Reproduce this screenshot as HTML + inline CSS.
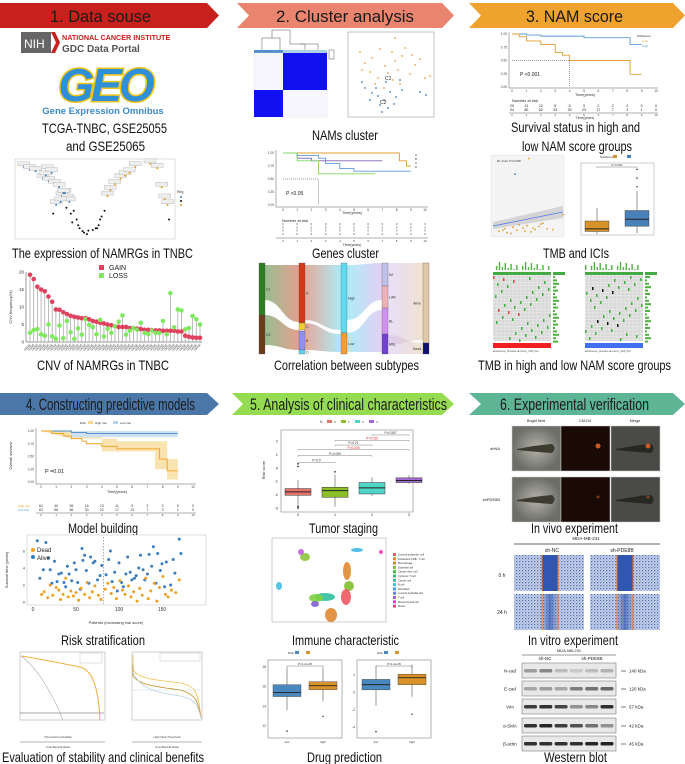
<!DOCTYPE html>
<html><head><meta charset="utf-8">
<style>
html,body{margin:0;padding:0;background:#fff;}
svg{display:block;font-family:"Liberation Sans",sans-serif;}
.cap{font-size:14px;fill:#111;text-anchor:middle;}
.hd{font-size:17px;fill:#1a1a1a;text-anchor:middle;}
.tk{font-size:4px;fill:#444;}
</style></head>
<body>
<svg id="root" width="685" height="764" viewBox="0 0 685 764" xmlns="http://www.w3.org/2000/svg">
<defs>
<pattern id="cells" width="3" height="3" patternUnits="userSpaceOnUse">
<rect width="3" height="3" fill="#c9d3ea"/><rect x="0" y="0" width="1.3" height="1.3" fill="#4f6fb8"/><rect x="1.6" y="1.7" width="1" height="1" fill="#7b91c8"/>
</pattern>
<linearGradient id="band24" x1="0" x2="1"><stop offset="0" stop-color="#2f56b0" stop-opacity="0.1"/><stop offset="0.5" stop-color="#2f56b0" stop-opacity="0.7"/><stop offset="1" stop-color="#2f56b0" stop-opacity="0.1"/></linearGradient>
<radialGradient id="bf"><stop offset="0" stop-color="#b5b5ad"/><stop offset="1" stop-color="#6e6e68"/></radialGradient>
<linearGradient id="sk1" x1="0" x2="1"><stop offset="0" stop-color="#2e7d20" stop-opacity="0.5"/><stop offset="1" stop-color="#c94020" stop-opacity="0.5"/></linearGradient>
<linearGradient id="sk2" x1="0" x2="1"><stop offset="0" stop-color="#c94020" stop-opacity="0.45"/><stop offset="1" stop-color="#5ad8f0" stop-opacity="0.5"/></linearGradient>
<linearGradient id="sk3" x1="0" x2="1"><stop offset="0" stop-color="#5ad8f0" stop-opacity="0.5"/><stop offset="1" stop-color="#c9a0e8" stop-opacity="0.5"/></linearGradient>
<linearGradient id="sk4" x1="0" x2="1"><stop offset="0" stop-color="#c9b0e8" stop-opacity="0.4"/><stop offset="1" stop-color="#e8cfb0" stop-opacity="0.6"/></linearGradient>
</defs>

<!-- Headers -->
<g><polygon points="0,3 207,3 219,15.5 207,28 0,28" fill="#c8201c"/><text class="hd" x="100.5" y="22" textLength="101" lengthAdjust="spacingAndGlyphs">1. Data souse</text></g>
<g><polygon points="237,3 442,3 454,15.5 442,28 237,28 249,15.5" fill="#e9846f"/><text class="hd" x="345" y="22" textLength="138" lengthAdjust="spacingAndGlyphs">2. Cluster analysis</text></g>
<g><polygon points="469,3 673,3 685,15.5 673,28 469,28 481,15.5" fill="#f0a22e"/><text class="hd" x="574.5" y="22" textLength="97" lengthAdjust="spacingAndGlyphs">3. NAM score</text></g>
<g><polygon points="0,393 207,393 219,404 207,415 0,415" fill="#4a77a8"/><text class="hd" x="110.5" y="410" textLength="169" lengthAdjust="spacingAndGlyphs">4. Constructing predictive models</text></g>
<g><polygon points="232,393 442,393 454,404 442,415 232,415 243,404" fill="#96dc52"/><text class="hd" x="348.5" y="410" textLength="197" lengthAdjust="spacingAndGlyphs">5. Analysis of clinical characteristics</text></g>
<g><polygon points="469,393 673,393 685,404 673,415 469,415 481,404" fill="#5db595"/><text class="hd" x="574.5" y="410" textLength="149" lengthAdjust="spacingAndGlyphs">6. Experimental verification</text></g>

<!-- Col1 logos -->
<g>
<rect x="21" y="32" width="30" height="21" fill="#666"/><text x="24" y="48" font-size="12" fill="#fff">NIH</text>
<polygon points="51,32 55,32 60,42.5 55,53 51,53 56,42.5" fill="#c8201c"/>
<text x="62" y="40" font-size="7.2" font-weight="bold" fill="#c8201c">NATIONAL CANCER INSTITUTE</text>
<text x="62" y="52" font-size="10" font-weight="bold" fill="#555">GDC Data Portal</text>
</g>
<g>
<text x="105" y="101" font-size="46" font-weight="bold" text-anchor="middle" fill="#2f8fd8" stroke="#f2c418" stroke-width="3" paint-order="stroke" font-style="italic" letter-spacing="-3">GEO</text>
<text x="103" y="114" font-size="9.5" font-weight="bold" text-anchor="middle" fill="#3a8ac8">Gene Expression Omnibus</text>
</g>
<text class="cap" x="104.5" y="133" textLength="125" lengthAdjust="spacingAndGlyphs">TCGA-TNBC, GSE25055</text>
<text class="cap" x="105.5" y="151" textLength="79" lengthAdjust="spacingAndGlyphs">and GSE25065</text>

<g id="volcano"><rect x="15" y="159" width="160" height="80" fill="#fff" stroke="#bbb" stroke-width="0.5"/></g>
<text class="cap" x="102.5" y="258" textLength="181" lengthAdjust="spacingAndGlyphs">The expression of NAMRGs in TNBC</text>

<g id="cnv"></g>
<text class="cap" x="103" y="370" textLength="132" lengthAdjust="spacingAndGlyphs">CNV of NAMRGs in TNBC</text>

<!-- Col2 -->
<g>
<path d="M262,50 V38 H272 V30 H290 V38 M272,38 H280 V50 M290,38 V44 H305 V50 M300,44 H318 V50" fill="none" stroke="#555" stroke-width="0.5"/>
<rect x="254" y="50" width="29" height="3" fill="#4f8fcf"/><rect x="283" y="50" width="44" height="3" fill="#a8d0e8"/>
<rect x="254" y="53" width="73" height="64" fill="#f6f6fc" stroke="#ddd" stroke-width="0.3"/>
<rect x="283" y="53" width="44" height="37" fill="#1010f0"/>
<rect x="254" y="90" width="29" height="27" fill="#1010f0"/>
<rect x="329" y="50" width="5" height="9" fill="#fff" stroke="#777" stroke-width="0.6"/>
</g>
<g id="pca"><rect x="348" y="32" width="86" height="85" fill="#fff" stroke="#888" stroke-width="0.5"/></g>
<text class="cap" x="345" y="140" textLength="66" lengthAdjust="spacingAndGlyphs">NAMs cluster</text>
<g id="km2"></g>
<text class="cap" x="345.5" y="258" textLength="67" lengthAdjust="spacingAndGlyphs">Genes cluster</text>
<g id="sankey"></g>
<text class="cap" x="346.5" y="370" textLength="145" lengthAdjust="spacingAndGlyphs">Correlation between subtypes</text>

<!-- Col3 -->
<g id="km3"></g>
<text class="cap" x="575.5" y="132" textLength="129" lengthAdjust="spacingAndGlyphs">Survival status in high and</text>
<text class="cap" x="577" y="151" textLength="110" lengthAdjust="spacingAndGlyphs">low NAM score groups</text>
<g id="tmb"></g>
<g id="ici"></g>
<text class="cap" x="576" y="258" textLength="66" lengthAdjust="spacingAndGlyphs">TMB and ICIs</text>
<g id="onco"></g>
<text class="cap" x="574.5" y="370" textLength="193" lengthAdjust="spacingAndGlyphs">TMB in high and low NAM score groups</text>

<!-- Col4 -->
<g id="km4"></g>
<text class="cap" x="103" y="533" textLength="70" lengthAdjust="spacingAndGlyphs">Model building</text>
<g id="risk"></g>
<text class="cap" x="103" y="645" textLength="84" lengthAdjust="spacingAndGlyphs">Risk stratification</text>
<g id="dca"></g>
<text class="cap" x="103" y="762" textLength="202" lengthAdjust="spacingAndGlyphs">Evaluation of stability and clinical benefits</text>

<!-- Col5 -->
<g id="stage"></g>
<text class="cap" x="343.5" y="533" textLength="69" lengthAdjust="spacingAndGlyphs">Tumor staging</text>
<g id="umap"></g>
<text class="cap" x="345.5" y="645" textLength="107" lengthAdjust="spacingAndGlyphs">Immune characteristic</text>
<g id="drug"></g>
<text class="cap" x="344.5" y="762" textLength="75" lengthAdjust="spacingAndGlyphs">Drug prediction</text>

<!-- Col6 -->
<g id="fish"></g>
<text class="cap" x="574.5" y="533" textLength="87" lengthAdjust="spacingAndGlyphs">In vivo experiment</text>
<g id="wound"></g>
<text class="cap" x="573" y="645" textLength="90" lengthAdjust="spacingAndGlyphs">In vitro experiment</text>
<g id="wb"></g>
<text class="cap" x="575.5" y="762" textLength="63" lengthAdjust="spacingAndGlyphs">Western blot</text>
</svg>

<script>
// ---------- data ----------
const cnvGain=[19.2,18,15.8,15,14.5,13,11.5,9.3,9.2,8.5,8,7.5,7.2,7,6.8,6.8,6.5,6,5.8,5.5,5.3,5,4.8,4.5,4.3,4.3,4.3,4,4,3.8,3.7,3.5,3.5,3.4,3.3,3.3,3.2,3.2,3.2,3.2,3,3,1.8,1.5,1.3,1.2,1.2];
const cnvLoss=[2.6,3.4,3.7,2.2,1.8,5,1.6,0.9,4.7,1.1,6,2.8,0.9,3.9,2.1,6.5,4.9,4.2,2.2,6.3,1.6,3.8,2.6,4.5,5.8,7.6,2.1,3.2,4,3.5,5.5,2.6,2.2,3.3,2.6,2.6,6,2.2,14,4.2,9.3,9,3.6,4,7.4,6.5,5];
const kmTime3Low=[0,0.5,1,2,3,3.5,4,8,8.2,9];
const kmSurv3Low=[1,0.95,0.87,0.8,0.65,0.6,0.5,0.5,0.24,0.24];
const kmTime3High=[0,1,2,5,8,8.2,9];
const kmSurv3High=[1,0.98,0.96,0.93,0.93,0.8,0.8];
const kmTimeA=[0,8,8.2,8.7,9], kmSurvA=[1,1,0.85,0.75,0.75];
const kmTimeB=[0,1,2.5,3,4,5,9], kmSurvB=[1,0.95,0.9,0.8,0.7,0.65,0.65];
const kmTimeC=[0,1,2,7], kmSurvC=[1,0.9,0.85,0.85];
const kmTimeD=[0,1,2.5,6.5], kmSurvD=[1,0.85,0.6,0.6];
const kmTime4High=[0,0.7,1.5,2,2.7,3,4,5,7.5,7.8,8.3,9];
const kmSurv4High=[1,0.95,0.9,0.85,0.8,0.75,0.7,0.65,0.65,0.45,0.22,0.22];
const kmTime4Low=[0,2,3,9], kmSurv4Low=[1,0.97,0.95,0.95];
const stageCats=["0","1","2","3"];
const stageQ1=[-2.05,-2.2,-1.95,-1.1], stageMed=[-1.8,-1.7,-1.5,-0.95], stageQ3=[-1.55,-1.45,-1.1,-0.75];
const stageLo=[-3,-2.9,-2.1,-1.2], stageHi=[-0.9,-0.5,-0.7,-0.55];
const stagePvals=["P=0.9","P=0.009","P=0.005","P=0.21","P=0.015","P=0.067"];
const aliveIdx=[5,8,12,15,18,20,22,25,28,30,33,36,38,40,42,45,48,50,52,55,57,58,60,62,65,67,70,72,75,78,80,85,88,90,92,95,98,100,103,105,108,110,113,115,118,120,123,125,128,130,133,135,138,140,143,145,148,150,153,155,160,163,165,170,172];
const aliveTime=[7.2,2.8,3.8,7,5.2,3.8,2.2,4.8,2.4,3.3,3.4,2.3,1.8,4.2,3.3,2.5,4.6,3.8,2.3,1.5,6.3,4.9,5.5,3.7,2.2,5.3,4.6,4.8,2.6,3.1,4.3,3.2,5,6,2.4,3.5,1.3,4.6,2.3,1.8,3.3,5.3,3.5,2.6,2.8,3.1,4,5.5,3.8,2.6,3.3,5.6,4.2,6.5,2.2,5.7,3.7,4.5,1.8,4.7,2,5,3.4,7.4,5.7];
const deadIdx=[10,13,17,20,23,27,30,32,35,38,41,44,47,50,53,56,60,63,66,69,72,76,79,84,87,91,94,97,101,104,107,111,114,117,121,124,127,131,134,137,141,144,147,151,154,157,161,166,170];
const deadTime=[0.9,1.2,0.5,2,0.8,1.7,1.4,0.3,0.9,2.8,0.6,1.3,0.7,1.1,0.2,1.6,0.9,2.3,0.5,1.2,1.9,0.8,0.3,1.5,2.2,1,1.7,0.4,2.5,1.4,0.9,1.9,0.6,1.2,0.1,1.6,0.8,2.8,0.4,1.3,2.2,0.1,1.7,3,0.9,0.6,1.4,1.1,2.6];
const drugLow1=[11.5,13.6,15,15.4,16.2,17.9], drugHigh1=[13,14.5,15.7,16.1,16.5,17.9];
const drugLow2=[-4.5,-1.5,0.3,0.9,1.5,3], drugHigh2=[-2.5,-0.5,0.9,1.7,2.1,3.2];
const tmbX=[-1.2,-0.9,-0.8,-0.5,-0.3,0,0.2,0.4,0.6,0.8,1,1.2,-0.6,-0.2,0.1,0.5,0.9,1.5,2,0.3,-1,-0.4];
const tmbY=[0.5,0.8,0.3,1,0.6,0.9,1.2,0.4,0.7,1.1,1.5,0.8,0.2,1.3,0.5,0.9,1.4,0.7,2.6,9.8,0.6,7.8];
const iciLow=[0.1,0.4,0.7,1.6,3.1], iciHigh=[0.2,1,1.8,2.8,5];
const volcX=[-4.6,-4.2,-3.8,-3.3,-3.1,-3,-2.9,-2.7,-2.5,-2.2,-2,-1.8,-1.6,-1.5,-1.4,-1.2,-1,-0.8,-0.6,-0.5,-0.3,-0.2,0.1,0.3,0.5,0.6,0.9,1.1,1.3,1.6,2,2.3,2.6,3,4,4.5,4.8,5,5.2,5.3,-2.4,-2.6,-1.9,-1.7,-2.1,-1.3,-0.9,0.4,0.7];
const volcY=[24,23,22.5,20,21,23,19,22,18,17,14,15,13,12,8,9,6,3,2,1.5,1,2.2,2.4,3,4,6,9,14,16,18,20,21,22,24,25,23.5,17,13,11,6,11,8,15,10,12,5,4,3,7];
// ---------- helpers ----------
const NS="http://www.w3.org/2000/svg";
function mk(tag,attrs,parent){const e=document.createElementNS(NS,tag);for(const k in attrs)e.setAttribute(k,attrs[k]);parent.appendChild(e);return e;}
function lin(d0,d1,r0,r1){return v=>r0+(v-d0)*(r1-r0)/(d1-d0);}
function G(id){return document.getElementById(id);}
function txt(p,x,y,s,size,fill,anchor){const t=mk('text',{x:x,y:y,'font-size':size,fill:fill||'#333','text-anchor':anchor||'start'},p);t.textContent=s;return t;}

// ---------- volcano ----------
(function(){const g=G('volcano');const x=lin(-5,5.5,18,172),y=lin(0,26,237,161);
for(let i=0;i<volcX.length;i++){const v=volcX[i];const col=v<-1.4&&volcY[i]>10?'#3c7fc0':(v>1&&volcY[i]>8?'#e89a20':'#111');
 if(col!=='#111'){const r=mk('rect',{x:x(v)-6,y:y(volcY[i])-5,width:12,height:4,fill:'#eee',stroke:'#999','stroke-width':0.3},g);}
 const c=mk('circle',{cx:x(v),cy:y(volcY[i]),r:1,fill:col},g);}
const l=mk('g',{},g);
txt(l,177,193,'Reg',3.5);[['#3c7fc0',197],['#111',201],['#e89a20',205]].forEach(a=>mk('circle',{cx:181,cy:a[1],r:1,fill:a[0]},l));})();

// ---------- CNV ----------
(function(){const g=G('cnv');const y=lin(0,20,342,272);const x=i=>30+i*(170/(cnvGain.length-1));
[0,5,10,15,20].forEach(v=>txt(g,24,y(v)+1.5,String(v),4.5,'#333','end'));
mk('line',{x1:26,y1:272,x2:26,y2:342,stroke:'#333','stroke-width':0.5},g);mk('line',{x1:26,y1:342,x2:202,y2:342,stroke:'#333','stroke-width':0.5},g);
const yl=txt(g,12,307,'CNV frequency(%)',4,'#333','middle');yl.setAttribute('transform','rotate(-90 12 307)');
for(let i=0;i<cnvGain.length;i++){const top=Math.max(cnvGain[i],cnvLoss[i]);
 mk('line',{x1:x(i),y1:y(0),x2:x(i),y2:y(top),stroke:'#aaa','stroke-width':0.8},g);
 const a=mk('circle',{cx:x(i),cy:y(cnvGain[i]),r:2.3,fill:'#e0415f'},g);
 const b=mk('circle',{cx:x(i),cy:y(cnvLoss[i]),r:2.3,fill:'#80e860'},g);
 const t=txt(g,x(i)+1,345,'GENE',3,'#444','end');t.setAttribute('transform','rotate(-45 '+(x(i)+1)+' 345)');}
const l=mk('g',{},g);
mk('rect',{x:99,y:265,width:5,height:5,fill:'#e0415f'},l);txt(l,109,270,'GAIN',7,'#222');
mk('rect',{x:99,y:273,width:5,height:5,fill:'#80e860'},l);txt(l,109,278,'LOSS',7,'#222');})();

// ---------- PCA ----------
(function(){const g=G('pca');
const pcaO=[[360,52],[365,63],[372,58],[380,49],[385,66],[392,52],[395,61],[398,70],[402,56],[405,48],[410,74],[415,65],[420,59],[425,78],[430,76],[378,78],[388,73],[393,80],[400,84],[384,88],[370,72],[375,84],[362,70],[395,38],[412,55]];
const pcaB=[[365,88],[372,93],[378,96],[384,100],[390,92],[396,97],[402,90],[380,105],[388,108],[370,100],[394,104],[400,80],[386,82],[376,88],[420,92],[426,95],[382,112],[362,82]];
pcaO.forEach(p=>{const c=mk('circle',{cx:p[0],cy:p[1],r:0.9,fill:'#e8a040'},g);});
pcaB.forEach(p=>{const c=mk('circle',{cx:p[0],cy:p[1],r:0.9,fill:'#3c7ab8'},g);});
txt(g,385,80,'C1',5,'#222');txt(g,380,104,'C2',5,'#222');})();

// ---------- KM generic ----------
function km(g,times,surv,x,y,col,w){let d='M'+x(times[0])+','+y(surv[0]);for(let i=1;i<times.length;i++){d+=' H'+x(times[i])+' V'+y(surv[i]);}
 const p=mk('path',{d:d,fill:'none',stroke:col,'stroke-width':w||0.9},g);return p;}
function kmAxes(g,x0,x1,y0,y1,yl){mk('line',{x1:x0,y1:y0,x2:x0,y2:y1,stroke:'#333','stroke-width':0.4},g);mk('line',{x1:x0,y1:y1,x2:x1,y2:y1,stroke:'#333','stroke-width':0.4},g);}

(function(){const g=G('km3');const x=lin(0,10,512,656),y=lin(0,1,87,34);kmAxes(g,509,658,32,88);
['0.00','0.25','0.50','0.75','1.00'].forEach((s,i)=>txt(g,507,y(i*0.25)+1,s,3.2,'#444','end'));
for(let i=0;i<=10;i++)txt(g,x(i),92,String(i),3.2,'#444','middle');txt(g,585,96,'Time(years)',3.8,'#333','middle');
mk('path',{d:'M'+x(0)+','+y(0.5)+' H'+x(4)+' V'+y(0),stroke:'#333','stroke-dasharray':'1,1','stroke-width':0.5,fill:'none'},g);
const a=km(g,kmTime3High,kmSurv3High,x,y,'#5b9bd5');
const b=km(g,kmTime3Low,kmSurv3Low,x,y,'#e0a030');
txt(g,520,76,'P <0.001',5,'#222');txt(g,637,37,'NAMscore',3,'#333');txt(g,642,42,'Low',3,'#e0a030');txt(g,642,47,'High',3,'#5b9bd5');
txt(g,512,102,'Number at risk',4,'#222');
const lowR=['29','21','12','5','5','3','2','2','2','0','0'],highR=['94','80','62','33','30','23','17','7','3','1','0'];
for(let i=0;i<=10;i++){txt(g,x(i),107,lowR[i],3.5,'#222','middle');txt(g,x(i),111,highR[i],3.5,'#222','middle');txt(g,x(i),116,String(i),3,'#444','middle');}
mk('line',{x1:509,y1:113,x2:658,y2:113,stroke:'#333','stroke-width':0.4},g);txt(g,585,119,'Time(years)',3.5,'#333','middle');})();

(function(){const g=G('km2');const x=lin(0,10,283,425),y=lin(0,1,205,153);kmAxes(g,276,428,150,207);
['0.00','0.25','0.50','0.75','1.00'].forEach((s,i)=>txt(g,274,y(i*0.25)+1,s,3.2,'#444','end'));
for(let i=0;i<=10;i++)txt(g,x(i),211,String(i),3.2,'#444','middle');txt(g,352,214,'Time(years)',3.8,'#333','middle');
mk('path',{d:'M'+x(0)+','+y(0.5)+' H'+x(2.5)+' V'+y(0),stroke:'#333','stroke-dasharray':'1,1','stroke-width':0.5,fill:'none'},g);
[[kmTimeA,kmSurvA,'#e0a030','km-cluster-a'],[kmTimeB,kmSurvB,'#5b9bd5','km-cluster-b'],[kmTimeC,kmSurvC,'#8060b0','km-cluster-c'],[kmTimeD,kmSurvD,'#80d860','km-cluster-d']].forEach(s=>{const p=km(g,s[0],s[1],x,y,s[2]);});
txt(g,286,195,'P <0.05',5,'#222');['A','B','C','D'].forEach((s,i)=>txt(g,415,156+i*4,s,3,'#333'));
txt(g,282,222,'Number at risk',4,'#222');mk('line',{x1:276,y1:238,x2:428,y2:238,stroke:'#333','stroke-width':0.4},g);
for(let i=0;i<=10;i++){for(let r=0;r<4;r++)txt(g,x(i),225+r*3.3,'0',2.8,'#333','middle');txt(g,x(i),242,String(i),3,'#444','middle');}
txt(g,352,246,'Time(years)',3.5,'#333','middle');})();

(function(){const g=G('km4');const x=lin(0,10,41,193),y=lin(0,1,482,431);kmAxes(g,36,196,428,484);
txt(g,80,424,'Risk',3,'#333');mk('rect',{x:88,y:421,width:5,height:3,fill:'#f5d790'},g);txt(g,95,424,'High risk',3,'#333');mk('rect',{x:113,y:421,width:5,height:3,fill:'#b8d4ec'},g);txt(g,120,424,'Low risk',3,'#333');
['0.00','0.25','0.50','0.75','1.00'].forEach((s,i)=>txt(g,34,y(i*0.25)+1,s,3.2,'#444','end'));
const yl=txt(g,12,456,'Overall survival',4,'#333','middle');yl.setAttribute('transform','rotate(-90 12 456)');
mk('path',{d:'M'+x(0)+','+y(1)+' H'+x(2)+' V'+y(0.88)+' H'+x(4)+' V'+y(0.6)+' H'+x(7.5)+' V'+y(0.25)+' H'+x(8.3)+' V'+y(0.05)+' H'+x(9)+' V'+y(0.45)+' H'+x(8.3)+' V'+y(0.8)+' H'+x(5)+' V'+y(0.85)+' H'+x(2)+' Z',fill:'#f5d790',opacity:0.7},g);
mk('rect',{x:x(2),y:y(1),width:x(9)-x(2),height:y(0.88)-y(1),fill:'#b8d4ec',opacity:0.7},g);
const a=km(g,kmTime4Low,kmSurv4Low,x,y,'#4a88c8');
const b=km(g,kmTime4High,kmSurv4High,x,y,'#f0a020');
txt(g,45,473,'P =0.01',5.5,'#222');
for(let i=0;i<=10;i++)txt(g,x(i),488,String(i),3.2,'#444','middle');txt(g,117,493,'Time(years)',3.8,'#333','middle');
const hr=['61','40','26','16','13','11','9','3','2','0','0'],lr=['62','56','56','30','22','17','13','7','3','1','0'];
for(let i=0;i<=10;i++){txt(g,x(i),507,hr[i],3.5,'#333','middle');txt(g,x(i),511,lr[i],3.5,'#333','middle');txt(g,x(i),516,String(i),3,'#444','middle');}
txt(g,18,507,'High risk',3,'#f0a020');txt(g,18,511,'Low risk',3,'#4a88c8');mk('line',{x1:36,y1:513,x2:196,y2:513,stroke:'#333','stroke-width':0.4},g);})();

// ---------- risk scatter ----------
(function(){const g=G('risk');const x=lin(0,150,33,162),y=lin(0,6,602,551);
mk('rect',{x:27,y:535,width:179,height:70,fill:'#fff',stroke:'#aaa','stroke-width':0.4},g);
mk('line',{x1:x(82),y1:537,x2:x(82),y2:604,stroke:'#555','stroke-dasharray':'1.5,1.5','stroke-width':0.5},g);
[0,2,4,6].forEach(v=>txt(g,25,y(v)+1.5,String(v),4,'#444','end'));[0,50,100,150].forEach(v=>txt(g,x(v),611,String(v),5,'#333','middle'));
txt(g,116,624,'Patients (increasing risk score)',4,'#333','middle');const yl=txt(g,8,570,'Survival time (years)',4,'#333','middle');yl.setAttribute('transform','rotate(-90 8 570)');
for(let i=0;i<aliveIdx.length;i++){const c=mk('circle',{cx:x(aliveIdx[i]),cy:y(aliveTime[i]),r:1.5,fill:'#3a7cc0'},g);}
for(let i=0;i<deadIdx.length;i++){const c=mk('circle',{cx:x(deadIdx[i]),cy:y(deadTime[i]),r:1.5,fill:'#f0a020'},g);}
mk('circle',{cx:33,cy:550,r:2,fill:'#f0a020'},g);txt(g,37,552,'Dead',6,'#222');mk('circle',{cx:33,cy:557,r:2,fill:'#3a7cc0'},g);txt(g,37,560,'Alive',6,'#222');})();

// ---------- DCA ----------
(function(){const g=G('dca');
mk('rect',{x:20,y:652,width:85,height:68,fill:'#fff',stroke:'#888','stroke-width':0.4},g);
mk('line',{x1:20,y1:713,x2:104,y2:713,stroke:'#888','stroke-width':0.8},g);
mk('path',{d:'M21,656 C35,658 60,663 80,667 C90,670 98,680 100,720',fill:'none',stroke:'#f0b040','stroke-width':1},g);
mk('path',{d:'M21,656 C40,670 55,700 63,720',fill:'none',stroke:'#aaa','stroke-width':0.6},g);
mk('rect',{x:80,y:653,width:22,height:10,fill:'#fff',stroke:'#999','stroke-width':0.3},g);
txt(g,58,738,'Threshold probability',3,'#444','middle');txt(g,58,748,'Cost:Benefit Ratio',3,'#444','middle');
mk('line',{x1:20,y1:742,x2:105,y2:742,stroke:'#444','stroke-width':0.4},g);
mk('rect',{x:132,y:652,width:70,height:68,fill:'#fff',stroke:'#888','stroke-width':0.4},g);
mk('path',{d:'M133,655 V670 C140,680 160,680 180,683 C195,686 198,690 201,718',fill:'none',stroke:'#f0c050','stroke-width':0.8},g);
mk('path',{d:'M133,665 V676 C140,686 160,687 180,690 C195,694 198,700 201,718',fill:'none',stroke:'#c89020','stroke-width':0.8},g);
mk('path',{d:'M133,672 C140,690 160,693 180,696 C195,699 198,705 201,718',fill:'none',stroke:'#b8d0e8','stroke-width':0.8},g);
mk('line',{x1:133,y1:690,x2:200,y2:690,stroke:'#90b8e0','stroke-dasharray':'1,1','stroke-width':0.5},g);
mk('rect',{x:160,y:653,width:40,height:8,fill:'#fff',stroke:'#999','stroke-width':0.3},g);
txt(g,167,738,'High Risk Threshold',3,'#444','middle');txt(g,167,748,'Cost:Benefit Ratio',3,'#444','middle');
mk('line',{x1:132,y1:742,x2:202,y2:742,stroke:'#444','stroke-width':0.4},g);})();

// ---------- Tumor stage boxplot ----------
(function(){const g=G('stage');const y=lin(-3,2,508,441);const cx=[298,335,372,409];const cols=['#e8736b','#8cbf26','#4fd6c8','#a66bd3'];
mk('rect',{x:281,y:430,width:132,height:82,fill:'#fff',stroke:'#444','stroke-width':0.4},g);
[2,1,0,-1,-2,-3].forEach(v=>txt(g,278,y(v)+1.5,String(v),4,'#333','end'));
const yl=txt(g,265,470,'Risk score',4,'#333','middle');yl.setAttribute('transform','rotate(-90 265 470)');
txt(g,320,423,'N',3.5,'#333');
for(let i=0;i<4;i++){mk('rect',{x:327+i*14,y:420,width:5,height:3,fill:cols[i]},g);txt(g,334+i*14,423,stageCats[i],3,'#333');
 mk('line',{x1:cx[i],y1:y(stageLo[i]),x2:cx[i],y2:y(stageHi[i]),stroke:'#333','stroke-width':0.5},g);
 const b=mk('rect',{x:cx[i]-13,y:y(stageQ3[i]),width:26,height:y(stageQ1[i])-y(stageQ3[i]),fill:cols[i],stroke:'#333','stroke-width':0.5},g);
 mk('line',{x1:cx[i]-13,y1:y(stageMed[i]),x2:cx[i]+13,y2:y(stageMed[i]),stroke:'#222','stroke-width':1},g);
 txt(g,cx[i],516,stageCats[i],4,'#333','middle');}
[-3,-2.9,0.3,0.1,-0.3].forEach((v,k)=>mk('circle',{cx:k<4?cx[0]:cx[1],cy:y(v),r:0.8,fill:'#111'},g));
const pairs=[[0,1,0.4],[0,2,0.9],[0,3,1.35],[1,2,1.7],[1,3,2.05],[2,3,2.45]];
pairs.forEach((p,k)=>{const yy=y(p[2]);mk('path',{d:'M'+cx[p[0]]+','+(yy+1)+' V'+yy+' H'+cx[p[1]]+' V'+(yy+1),fill:'none',stroke:'#666','stroke-width':0.4},g);
 txt(g,(cx[p[0]]+cx[p[1]])/2,yy-0.8,stagePvals[k],3.2,(k===2||k===4)?'#e02020':'#333','middle');});})();

// ---------- UMAP ----------
(function(){const g=G('umap');mk('rect',{x:272,y:538,width:114,height:84,fill:'#fff',stroke:'#888','stroke-width':0.4},g);
const cl=[[305,557,5,4,'#8cc83c'],[301,552,3,3,'#c060e0'],[279,586,3,4,'#40c0e0'],[357,550,6,2,'#40b8e8'],[381,552,2,2,'#f040c0'],[347,571,4,9,'#e08830'],[349,586,5,5,'#80c030'],[346,597,5,8,'#f05860'],[325,597,10,4,'#30c0a0'],[316,598,7,4,'#80d040'],[315,604,4,3,'#8060d0'],[331,615,6,7,'#e08830']];
cl.forEach(c=>{const e=mk('ellipse',{cx:c[0],cy:c[1],rx:c[2],ry:c[3],fill:c[4],opacity:0.9},g);});
const names=['Luminal progenitor cell','Exhausted CD8+ T cell','Macrophage','Epithelial cell','Cancer stem cell','Cytotoxic T cell','Cancer cell','B cell','Fibroblast','Luminal epithelial cell','T cell','Mesenchymal cell','Mixed'];
const lc=['#f05860','#e08830','#c09020','#80c030','#40c040','#30c070','#30c0a0','#40c0e0','#40a0f0','#6080f0','#a060e0','#e040d0','#f04090'];
names.forEach((n,i)=>{mk('rect',{x:393,y:553+i*4.3,width:3,height:3,fill:lc[i]},g);txt(g,398,555.5+i*4.3,n,2.6,'#333');});})();

// ---------- Drug boxplots ----------
(function(){const g=G('drug');
function panel(x0,lo,hi,d0,d1,ticks){const y=lin(d0,d1,736,662);mk('rect',{x:x0,y:660,width:74,height:78,fill:'#fff',stroke:'#444','stroke-width':0.4},g);
 ticks.forEach(v=>txt(g,x0-2,y(v)+1,String(v),3.2,'#333','end'));
 [[lo,x0+19,'#4a88c0'],[hi,x0+55,'#d8922a']].forEach(s=>{const q=s[0],c=s[1];
  mk('line',{x1:c,y1:y(q[1]),x2:c,y2:y(q[5]),stroke:'#333','stroke-width':0.5},g);
  const b=mk('rect',{x:c-14,y:y(q[4]),width:28,height:y(q[2])-y(q[4]),fill:s[2],stroke:'#333','stroke-width':0.4},g);
  mk('line',{x1:c-14,y1:y(q[3]),x2:c+14,y2:y(q[3]),stroke:'#222','stroke-width':0.9},g);
  mk('circle',{cx:c,cy:y(q[0]),r:0.7,fill:'#111'},g);});
 mk('path',{d:'M'+(x0+19)+','+(y(d1)+6)+' V'+(y(d1)+4)+' H'+(x0+55)+' V'+(y(d1)+6),fill:'none',stroke:'#555','stroke-width':0.4},g);
 txt(g,x0+37,y(d1)+3,'P=1.2e-05',3,'#333','middle');txt(g,x0+19,743,'low',3,'#333','middle');txt(g,x0+55,743,'high',3,'#333','middle');
 txt(g,x0+20,654,'Risk',3,'#333');mk('rect',{x:x0+27,y:651,width:4,height:3,fill:'#4a88c0'},g);mk('rect',{x:x0+38,y:651,width:4,height:3,fill:'#d8922a'},g);}
panel(268,drugLow1,drugHigh1,11,18.5,[12,14,16,18]);panel(357,drugLow2,drugHigh2,-5,3.5,[-4,-2,0,2]);})();

// ---------- TMB scatter & ICI box ----------
(function(){const g=G('tmb');const x=lin(-1.5,2,493,563),y=lin(0,10,235,157);
mk('rect',{x:491,y:155,width:73,height:82,fill:'#f4f4f4',stroke:'#ccc','stroke-width':0.3},g);
mk('path',{d:'M493,229 L563,218 L563,206 L493,222 Z',fill:'#ccc',opacity:0.8},g);mk('line',{x1:493,y1:226,x2:563,y2:212,stroke:'#5577ee','stroke-width':0.8},g);
for(let i=0;i<tmbX.length;i++){const c=mk('circle',{cx:x(tmbX[i]),cy:y(tmbY[i]),r:0.9,fill:i===21?'#3c7ab8':'#e0a030'},g);}
txt(g,497,162,'R=-0.22, P=0.008',3,'#333');
const h=G('ici');const yb=lin(0,8,235,165);mk('rect',{x:581,y:163,width:73,height:72,fill:'#fff',stroke:'#888','stroke-width':0.4},h);
txt(h,600,158,'NAMscore',3,'#333');mk('rect',{x:613,y:155,width:4,height:3,fill:'#d8922a'},h);mk('rect',{x:627,y:155,width:4,height:3,fill:'#4a80b8'},h);
[[iciLow,597,'#d8922a'],[iciHigh,637,'#4a80b8']].forEach(s=>{const q=s[0],c=s[1];mk('line',{x1:c,y1:yb(q[0]),x2:c,y2:yb(q[4]),stroke:'#333','stroke-width':0.5},h);
 const b=mk('rect',{x:c-12,y:yb(q[3]),width:24,height:yb(q[1])-yb(q[3]),fill:s[2],stroke:'#333','stroke-width':0.4},h);
 mk('line',{x1:c-12,y1:yb(q[2]),x2:c+12,y2:yb(q[2]),stroke:'#222','stroke-width':0.9},h);});
[5.5,6.5,7.5].forEach(v=>mk('circle',{cx:637,cy:yb(v),r:0.7,fill:'#111'},h));
mk('path',{d:'M597,168 V167 H637 V168',fill:'none',stroke:'#555','stroke-width':0.4},h);txt(h,617,166,'P<0.001',3,'#333','middle');})();

// ---------- Oncoplot ----------
(function(){const g=G('onco');
[[493,'#f02020'],[585,'#4070f0']].forEach((p,k)=>{const x0=p[0];
 mk('rect',{x:x0,y:272,width:58,height:69,fill:'#d8d8d8'},g);
 for(let c=0;c<=14;c++)mk('line',{x1:x0+c*4,y1:272,x2:x0+c*4,y2:341,stroke:'#fff','stroke-width':0.3},g);
 for(let r=0;r<=20;r++)mk('line',{x1:x0,y1:272+r*3.4,x2:x0+58,y2:272+r*3.4,stroke:'#fff','stroke-width':0.3},g);
 mk('rect',{x:x0,y:272,width:58,height:3,fill:'#4a4'},g);
 for(let j=0;j<40;j++){const cx=x0+((j*17+k*7)%57),cy=276+((j*23+k*11)%64);mk('rect',{x:cx,y:cy,width:1.5,height:3,fill:j%7===0?(k?'#111':'#e04040'):'#40b040'},g);}
 for(let j=0;j<20;j++)mk('rect',{x:x0+j*2.9,y:270-((j*13+k*5)%9),width:1.4,height:((j*13+k*5)%9),fill:'#50b040'},g);
 mk('rect',{x:x0+60,y:272,width:12,height:3,fill:'#4a4'},g);
 for(let r=0;r<20;r++)mk('rect',{x:x0+60,y:276+r*3.4,width:2+((r*7+k*3)%5),height:2,fill:'#50b040'},g);
 const bar=mk('rect',{x:x0,y:343,width:58,height:5,fill:p[1]},g);
 txt(g,x0,352,'■ Missense_Mutation  ■ Frame_Shift_Del',2.5,'#555');});})();

// ---------- Sankey ----------
(function(){const g=G('sankey');
const flows=[['M264,265 C282,265 282,265 299,265 L299,322 C282,322 282,300 264,300 Z','url(#sk1)'],['M264,315 C282,315 282,330 299,330 L299,350 C282,350 282,345 264,345 Z','url(#sk1)'],
['M304,265 C322,265 322,265 341,265 L341,330 C322,330 322,320 304,320 Z','url(#sk2)'],['M304,323 C322,323 322,334 341,334 L341,352 C322,352 322,350 304,350 Z','url(#sk2)'],
['M347,265 C365,265 365,263 382,263 L382,300 C365,300 365,320 347,320 Z','url(#sk3)'],['M347,333 C365,333 365,310 382,310 L382,352 C365,352 365,352 347,352 Z','url(#sk3)'],
['M388,263 C405,263 405,263 423,263 L423,340 C405,340 405,345 388,345 Z','url(#sk4)'],['M388,335 C405,335 405,343 423,343 L423,354 C405,354 405,354 388,354 Z','url(#sk4)']];
flows.forEach(f=>{const p=mk('path',{d:f[0],fill:f[1]},g);});
const nodes=[[259,263,52,'#2e7d20','C1'],[259,315,39,'#6b3a18','C2'],[299,263,60,'#d03a18','A'],[299,323,7,'#f0d030','C'],[299,331,19,'#9090f0','B'],[299,350,4,'#60d0f0','D'],
[341,263,70,'#60d8f0','High'],[341,333,21,'#f0a030','Low'],[382,263,23,'#c0c0e8','IM'],[382,286,22,'#f0b0b8','LAR'],[382,308,26,'#d090f0','BL'],[382,334,20,'#7040d0','MSL'],[423,263,80,'#e0c8a8','Alive'],[423,343,11,'#101070','Dead']];
nodes.forEach(n=>{const r=mk('rect',{x:n[0],y:n[1],width:6,height:n[2],fill:n[3],stroke:'#555','stroke-width':0.3},g);
 txt(g,n[0]+(n[0]>400?-6:7),n[1]+n[2]/2+1.5,n[4],3.5,'#333',n[0]>400?'middle':'start');});})();

// ---------- zebrafish ----------
(function(){const g=G('fish');const xs=[512,561,611];const lab=['Bright field','CM-DiI','Merge'];
xs.forEach((x,i)=>{txt(g,x+24,422,lab[i],3.8,'#222','middle');
 [426,477].forEach((y,r)=>{const bg=i===1?'#1a0a06':(i===0?'url(#bf)':'#4a4a46');const rc=mk('rect',{x:x,y:y,width:49,height:45,fill:bg,stroke:'#ccc','stroke-width':0.5},g);
  if(i!==1)mk('path',{d:'M'+(x+5)+','+(y+23)+' Q'+(x+25)+','+(y+19)+' '+(x+40)+','+(y+18)+' Q'+(x+45)+','+(y+22)+' '+(x+40)+','+(y+27)+' Q'+(x+25)+','+(y+26)+' '+(x+5)+','+(y+24)+' Z',fill:i===0?'#3c3c30':'#282822'},g);
  if(i>0)mk('circle',{cx:x+37,cy:y+20,r:r?1.5:2.5,fill:'#e06020',opacity:r?0.5:0.9},g);});});
txt(g,500,450,'shNA',4,'#222','end');txt(g,500,501,'shPDE8B',4,'#222','end');})();

// ---------- wound ----------
(function(){const g=G('wound');txt(g,586,540,'MDA-MB-231',4.5,'#222','middle');mk('line',{x1:514,y1:544,x2:660,y2:544,stroke:'#333','stroke-width':0.8},g);
txt(g,552,552,'sh-NC',5,'#222','middle');txt(g,622,552,'sh-PDE8B',5,'#222','middle');
[[514,'sh-nc'],[590,'sh-pde8b']].forEach(c=>{[[555,0],[594,1]].forEach(r=>{const rc=mk('rect',{x:c[0],y:r[0],width:70,height:36,fill:'url(#cells)'},g);
 const bx=c[0]+(c[1]==='sh-nc'?28:27);mk('rect',{x:bx,y:r[0],width:16,height:36,fill:r[1]?'url(#band24)':'#2f56b0'},g);
 mk('line',{x1:bx,y1:r[0],x2:bx,y2:r[0]+36,stroke:'#f07020','stroke-width':1},g);mk('line',{x1:bx+16,y1:r[0],x2:bx+16,y2:r[0]+36,stroke:'#f07020','stroke-width':1},g);});});
txt(g,502,577,'0 h',5,'#222','middle');txt(g,502,614,'24 h',5,'#222','middle');})();

// ---------- western blot ----------
(function(){const g=G('wb');txt(g,569,652,'MDA-MB-231',4,'#222','middle');mk('line',{x1:522,y1:655,x2:616,y2:655,stroke:'#333','stroke-width':0.6},g);
txt(g,545,660,'sh-NC',4.5,'#222','middle');txt(g,592,660,'sh-PDE8B',4.5,'#222','middle');
const rows=[['N-cad',663,'140 kDa',[0.35,0.45,0.2,0.15,0.2,0.25]],['E-cad',681,'120 kDa',[0.3,0.35,0.3,0.5,0.55,0.6]],['Vim',699,'57 kDa',[0.8,0.85,0.75,0.4,0.45,0.85]],['α-SMA',718,'42 kDa',[0.85,0.9,0.8,0.7,0.55,0.4]],['β-actin',736,'45 kDa',[0.85,0.85,0.85,0.85,0.9,0.9]]];
rows.forEach(r=>{const rc=mk('rect',{x:522,y:r[1],width:94,height:15,fill:'#e8e8e8',stroke:'#666','stroke-width':0.5},g);
 r[3].forEach((v,i)=>mk('rect',{x:524+i*15.3,y:r[1]+6,width:13,height:3.5,rx:1.5,fill:'#111',opacity:v},g));
 txt(g,510,r[1]+9.5,r[0],4.5,'#222','middle');mk('line',{x1:621,y1:r[1]+8,x2:626,y2:r[1]+8,stroke:'#222','stroke-width':0.6},g);txt(g,629,r[1]+9.5,r[2],4.5,'#222');});})();
</script>
</body></html>
